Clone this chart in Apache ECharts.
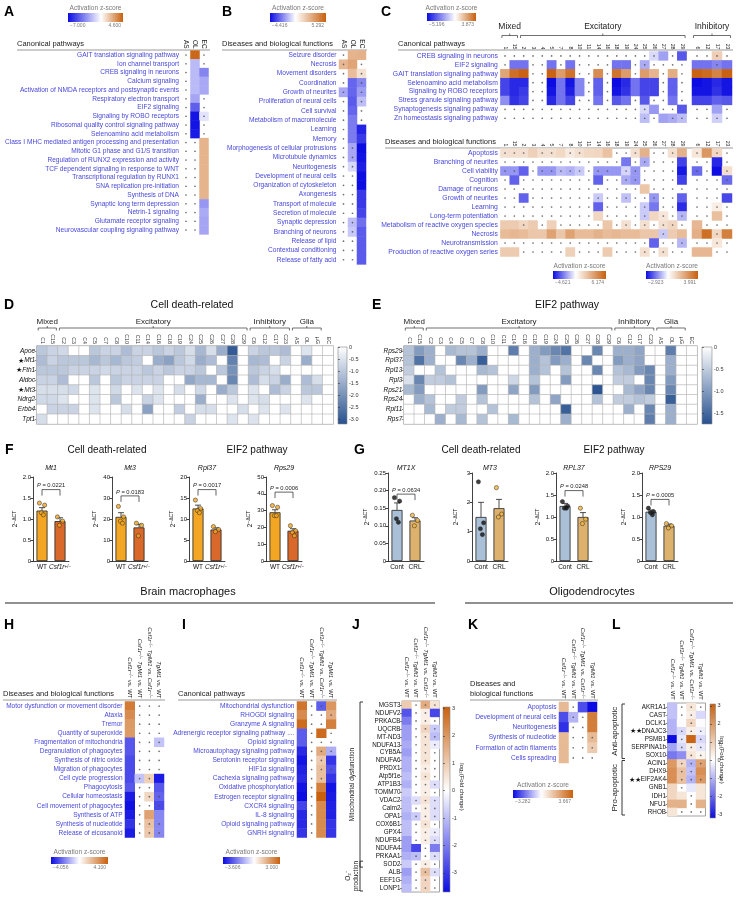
<!DOCTYPE html>
<html>
<head>
<meta charset="utf-8">
<script src="https://cdn.jsdelivr.net/npm/echarts@6/dist/echarts.min.js"></script>
<style>
  html, body { margin: 0; background: #fff; }
  #chart { width: 737px; height: 900px; }
</style>
</head>
<body>
<div id="chart"></div>
<script>
const n = v => ({ v, ns: true });   // coloured cell that is not significant (dot)
const _ = null;                      // not significant, white cell with dot

// ---------- A ----------
const aCols = ['AS', 'OL', 'EC'];
const aRows = ['GAIT translation signaling pathway', 'Ion channel transport', 'CREB signaling in neurons', 'Calcium signaling',
  'Activation of NMDA receptors and postsynaptic events', 'Respiratory electron transport', 'EIF2 signaling',
  'Signaling by ROBO receptors', 'Ribosomal quality control signaling pathway', 'Selenoamino acid metabolism',
  'Class I MHC mediated antigen processing and presentation', 'Mitotic G1 phase and G1/S transition',
  'Regulation of RUNX2 expression and activity', 'TCF dependent signaling in response to WNT',
  'Transcriptional regulation by RUNX1', 'SNA replication pre-initiation', 'Synthesis of DNA',
  'Synaptic long term depression', 'Netrin-1 signaling', 'Glutamate receptor signaling', 'Neurovascular coupling signaling pathway'];
const aVals = [[_, 4.4, _], [_, -2.0, _], [_, -2.0, -3.5], [_, -2.0, -2.5], [_, -2.0, -2.5], [_, -2.6, _], [_, -4.6, _],
  [_, -6.8, n(-0.8)], [_, -6.8, _], [_, -6.6, _], [_, _, 2.2], [_, _, 2.2], [_, _, 2.2], [_, _, 2.2], [_, _, 2.2], [_, _, 2.2],
  [_, _, 2.2], [_, _, -3.0], [_, _, -2.4], [_, _, -2.6], [_, _, -2.6]];
const aRange = [-7.000, 4.600];

// ---------- B ----------
const bRows = ['Seizure disorder', 'Necrosis', 'Movement disorders', 'Coordination', 'Growth of neurites',
  'Proliferation of neural cells', 'Cell survival', 'Metabolism of macromolecule', 'Learning', 'Memory',
  'Morphogenesis of cellular protrusions', 'Microtubule dynamics', 'Neuritogenesis', 'Development of neural cells',
  'Organization of cytoskeleton', 'Axongenesis', 'Transport of molecule', 'Secretion of molecule', 'Synaptic depression',
  'Branching of neurons', 'Release of lipid', 'Contextual conditioning', 'Release of fatty acid'];
const bVals = [[_, 2.5, 2.6], [n(2.4), 3.0, _], [_, 2.2, n(1.0)], [_, -2.8, n(-2.2)], [n(-1.6), -2.8, n(-1.8)],
  [_, -3.0, n(-1.2)], [_, -2.8, _], [_, -2.4, _], [_, -2.4, -4.0], [_, -2.4, -3.6], [_, n(-1.6), -4.4], [_, n(-1.6), -4.3],
  [_, n(-0.7), -4.1], [_, _, -4.4], [_, _, -4.4], [_, _, -3.6], [_, _, -3.6], [_, _, -3.4], [_, n(-1.2), -2.6],
  [_, n(-1.0), -3.0], [_, _, -3.0], [_, _, -3.0], [_, _, -3.0]];
const bRange = [-4.416, 5.292];

// ---------- C ----------
const cExcCols = ['1', '15', '2', '3', '4', '5', '7', '8', '10', '11', '14', '16', '18', '19', '24', '25', '26', '27', '28', '29'];
const cInhCols = ['6', '12', '17', '23'];
const cTopRows = ['CREB signaling in neurons', 'EIF2 signaling', 'GAIT translation signaling pathway', 'Selenoamino acid metabolism',
  'Signaling by ROBO receptors', 'Stress granule signaling pathway', 'Synaptogenesis signaling pathway', 'Zn homeostasis signaling pathway'];
const cTopExc = [
  [_, _, _, _, _, _, _, _, _, _, _, _, _, _, _, _, n(-0.8), -2.0, _, -3.6],
  [_, -3.0, -3.0, _, _, -3.0, _, -3.0, _, _, _, _, -3.0, -3.0, _, n(-1.8), _, _, _, _],
  [2.2, 3.5, 3.8, _, _, 3.8, 2.4, 3.4, _, _, 2.8, _, 3.4, 2.4, _, 2.4, 1.8, _, 2.0, _],
  [-4.0, -4.6, -4.6, _, _, -5.2, -3.0, -5.0, -2.6, _, -3.4, _, -5.2, -4.6, -3.0, -4.0, -4.0, _, -3.4, _],
  [-4.0, -4.6, -4.2, _, _, -5.0, -3.0, -4.8, -2.6, _, -3.4, _, -5.0, -4.4, -3.0, -4.0, -4.0, _, -3.4, _],
  [-2.4, -4.4, -4.0, _, _, -4.6, -3.0, -4.0, _, _, -3.0, _, -3.6, -3.0, _, -3.6, _, _, -3.0, _],
  [_, _, _, _, _, _, _, _, _, _, _, _, _, _, _, n(-0.8), -2.2, _, _, -3.6],
  [_, _, _, _, _, _, _, _, _, _, _, _, _, _, _, n(-1.4), _, -2.0, n(-1.8), n(-1.4)]];
const cTopInh = [[_, _, n(1.2), _], [-3.0, -3.0, n(-2.6), -3.0], [3.8, 3.6, 3.0, 3.8], [-5.2, -5.0, -4.6, -5.0],
  [-5.0, -5.0, -4.4, -5.0], [-4.0, -4.0, -3.4, -3.6], [_, _, -2.0, _], [_, _, n(-1.0), _]];
const cTopRange = [-5.196, 3.873];
const cBotRows = ['Apoptosis', 'Branching of neurites', 'Cell viability', 'Cognition', 'Damage of neurons', 'Growth of neurites',
  'Learning', 'Long-term potentiation', 'Metabolism of reactive oxygen species', 'Necrosis', 'Neurotransmission',
  'Production of reactive oxygen series'];
const cBotExc = [
  [n(1.2), n(1.2), n(1.2), 1.8, n(1.2), n(1.2), 1.5, n(0.8), n(1.2), 1.5, 1.6, 2.4, _, _, n(1.2), 3.0, _, _, n(1.2), 3.0],
  [_, _, _, _, _, _, _, _, _, _, _, _, _, -2.6, _, n(-1.6), _, _, _, -3.6],
  [n(-2.0), n(-2.0), -3.0, _, n(-2.0), n(-2.0), n(-1.3), n(-1.5), n(-1.0), _, n(-2.0), n(-2.0), -2.0, n(-0.8), n(-2.0), _, _, _, _, -4.4],
  [_, -3.0, _, _, _, _, _, _, _, _, -3.0, _, _, n(-1.6), n(-2.0), _, _, _, _, -3.6],
  [_, _, _, _, _, _, _, _, _, _, _, _, _, _, _, 2.2, _, _, _, _],
  [_, _, -3.0, _, _, _, _, _, _, _, n(-1.0), _, _, n(-1.2), _, _, n(-2.0), _, _, -3.0],
  [_, _, _, _, _, _, _, _, _, _, -3.0, _, _, _, _, n(-1.0), -2.6, _, _, -4.0],
  [_, _, _, _, _, _, _, _, _, _, 1.6, _, _, _, _, n(-1.0), 1.6, n(1.0), _, n(-1.4)],
  [2.0, 2.0, n(1.6), 2.0, _, 1.8, _, _, _, _, _, 2.2, _, n(1.2), _, n(1.2), _, n(1.2), n(1.6), _],
  [2.6, 2.8, 2.6, 2.2, 2.2, 3.6, 2.2, 3.6, 2.6, 2.6, 3.0, 2.6, 2.8, 2.6, 2.6, 2.2, 2.2, n(-1.0), 2.0, 2.6],
  [_, _, _, _, _, _, _, _, _, _, _, _, _, _, _, _, -3.0, _, _, n(-1.4)],
  [2.0, 2.0, _, _, _, _, _, 1.8, _, _, _, 2.0, _, _, _, n(1.2), _, n(1.2), _, _]];
const cBotInh = [[n(0.6), 2.6, n(1.0), _], [_, _, -2.6, _], [n(-1.8), _, -2.9, n(0.8)], [_, _, _, n(-1.8)], [_, _, _, _],
  [_, _, _, -2.2], [_, _, n(0.4), _], [_, _, 1.6, _], [1.8, _, _, _], [2.0, 3.6, n(1.0), 3.2], [_, _, n(0.6), _], [1.8, 1.8, _, _]];
const cExcRange = [-4.621, 6.174];
const cInhRange = [-2.923, 3.991];

// ---------- D / E ----------
const deCols = ['C1', 'C15', 'C2', 'C3', 'C4', 'C5', 'C7', 'C8', 'C10', 'C11', 'C14', 'C16', 'C18', 'C19', 'C24', 'C25',
  'C26', 'C27', 'C28', 'C29', 'C6', 'C12', 'C17', 'C23', 'AS', 'OL', 'µG', 'EC'];
const deGroups = [{ from: 0, to: 1, name: 'Mixed' }, { from: 2, to: 19, name: 'Excitatory' },
  { from: 20, to: 23, name: 'Inhibitory' }, { from: 24, to: 26, name: 'Glia' }];
const dRows = ['Apoe', '*Mt1', '*Fth1', 'Aldoc', '*Mt3', 'Ndrg2', 'Erbb4', 'Tpt1'];
const dVals = [
  [-1.0, -0.8, -0.7, 0, 0, -1.0, -0.8, -0.8, -1.2, -0.8, -0.8, -1.0, -0.8, -1.0, -0.6, -1.3, -0.6, -1.5, -3.0, 0, -0.8, -1.0, -1.0, -1.2, 0, -0.5, 0, 0],
  [-1.2, -0.8, -1.0, -1.0, -1.0, -1.3, -1.0, -1.3, -1.0, -0.9, 0, -1.5, -1.7, -1.0, -0.7, -1.5, -1.2, 0, -2.3, 0, -1.3, -1.2, 0, -0.8, 0, -1.5, 0, 0],
  [-1.0, -1.0, -1.0, -0.8, -0.8, -0.8, -0.7, -0.8, -0.8, -0.8, -1.0, -0.8, -1.0, -0.8, -0.8, -1.0, 0, -1.0, -2.0, 0, -1.0, -0.8, -0.6, 0, 0, 0, 0, 0],
  [-0.8, -0.8, -1.2, 0, 0, -1.0, 0, -1.0, -0.8, -0.8, -0.8, -0.8, 0, 0, -1.6, -1.3, -1.3, 0, -2.2, 0, -1.2, -0.6, -0.8, -1.5, 0, -1.2, -0.6, 0],
  [-0.6, -0.6, -0.6, -0.7, 0, -0.5, 0, -0.7, 0, -0.5, 0, -0.5, 0, -0.6, 0, -0.7, 0, -1.5, -1.0, 0, -0.5, 0, -1.2, -0.8, 0, -1.0, -1.0, 0],
  [-0.7, -0.7, -0.5, 0, 0, -0.5, 0, -1.0, 0, 0, -0.8, -0.5, 0, 0, 0, -1.5, 0, 0, -0.5, 0, -0.5, -0.6, 0, 0, 0, -0.5, 0, 0],
  [0, -0.8, -0.8, -0.8, 0, -0.5, 0, 0, -0.6, 0, -1.7, 0, 0, -0.9, 0, -0.6, -0.6, 0, 0, -0.6, 0, -0.5, 0, -0.5, 0, 0, 0, 0],
  [-0.6, 0, 0, 0, 0, 0, 0, 0, 0, 0, 0, 0, 0, 0, -0.8, 0, 0, 0, -0.5, 0, -0.5, 0, 0, 0, 0, 0, 0, 0]];
const dRange = [-3.2, 0];
const eRows = ['Rps29', 'Rpl37', 'Rpl13', 'Rpl3', 'Rps21', 'Rps24', 'Rpl11', 'Rps7'];
const eVals = [
  [-0.6, -1.0, -0.8, 0, -0.7, -0.6, -0.6, -0.8, 0, 0, -1.3, 0, -0.8, -1.0, -1.2, -1.4, 0, 0, -1.2, 0, -0.8, -0.8, -0.9, 0, 0, -1.3, 0, 0],
  [-0.6, -1.4, -0.8, 0, 0, -1.2, -0.8, -1.6, 0, 0, 0, 0, -0.8, -0.6, -1.0, -0.8, 0, -1.2, 0, 0, -1.0, -0.8, -0.9, 0, 0, -0.8, 0, 0],
  [-0.5, 0, 0, -0.6, 0, 0, 0, -0.7, -0.6, 0, 0, 0, -0.8, -0.6, 0, -0.6, 0, 0, -1.2, 0, -0.6, -0.7, -1.0, -1.2, 0, -0.8, 0, 0],
  [-0.3, -1.2, -0.5, -0.5, -0.6, 0, 0, 0, 0, 0, -0.4, 0, -0.6, 0, 0, -1.0, 0, 0, 0, 0, -0.5, -0.5, 0, -1.2, 0, -1.0, 0, 0],
  [-0.7, -1.0, 0, 0, 0, 0, 0, -1.0, 0, 0, -0.9, 0, -1.0, 0, 0, 0, 0, 0, -1.7, 0, 0, -0.7, -0.9, -1.2, 0, -1.2, 0, 0],
  [0, -0.8, -0.6, 0, 0, -0.5, 0, -0.6, 0, 0, 0, 0, -0.6, 0, -0.9, 0, 0, 0, -0.6, 0, -0.5, -0.5, -0.6, -0.5, 0, -1.6, 0, 0],
  [0, 0, -0.7, 0, -0.5, -0.5, 0, 0, -0.6, 0, 0, 0, 0, 0, 0, -1.6, 0, 0, 0, 0, 0, -0.8, 0, -1.2, 0, -0.8, 0, 0],
  [0, 0, 0, -0.8, 0, -0.7, 0, -0.6, 0, 0, -0.7, 0, 0, 0, 0, -0.8, 0, 0, 0, 0, 0, 0, 0, -1.3, 0, -0.8, 0, 0]];
const eRange = [-1.75, 0];

// ---------- F / G bar charts ----------
const fCats = ['WT', 'Csf1r+/-'];
const gCats = ['Cont', 'CRL'];
const fGenes = ['Mt1', 'Mt3', 'Rpl37', 'Rps29'];
const fMeans = [[1.2, 0.95], [21, 16], [12.5, 7.5], [29, 18]];
const fSems = [[0.07, 0.08], [2, 1.5], [0.8, 0.4], [1.5, 1.2]];
const fWT = [[1.38, 1.33, 1.15, 1.1], [26, 21, 19, 18], [14.5, 12.5, 12, 11.5], [33, 32, 27, 27]];
const fKO = [[1.05, 0.95, 0.85], [18, 17, 12], [8.2, 7.5, 7], [21, 18, 17, 15]];
const fMax = [2, 40, 20, 50], fStep = [0.5, 10, 5, 10], fDec = [1, 0, 0, 0];
const fP = ['0.0221', '0.0183', '0.0017', '0.0006'], fPAt = [1.7, 31, 17, 41];
const gGenes = ['MT1X', 'MT3', 'RPL37', 'RPS29'];
const gMeans = [[0.145, 0.115], [1.5, 1.8], [1.25, 1.0], [1.12, 0.8]];
const gSems = [[0.02, 0.008], [0.5, 0.3], [0.06, 0.1], [0.04, 0.04]];
const gCont = [[0.18, 0.17, 0.12, 0.11], [2.7, 1.3, 1.1, 0.9], [1.35, 1.25, 1.2, 1.2], [1.2, 1.12, 1.1, 1.05]];
const gCRL = [[0.13, 0.115, 0.1], [2.5, 1.6, 1.5], [1.2, 0.95, 0.85], [0.85, 0.8, 0.75]];
const gMax = [0.25, 3, 2, 2], gStep = [0.05, 1, 0.5, 0.5], gDec = [2, 0, 1, 1];
const gP = ['0.0634', null, '0.0248', '0.0005'], gPAt = [0.19, null, 1.6, 1.4];

// ---------- H / I / J / K / L ----------
const cmpCols = ['Csf1r−/− vs. WT', 'Csf1r−/− TgMt1 vs. WT', 'Csf1r−/− TgMt1 vs. Csf1r−/−', 'TgMt1 vs. WT'];
const hRows = ['Motor dysfunction or movement disorder', 'Ataxia', 'Tremor', 'Quantity of superoxide', 'Fragmentation of mitochondria',
  'Degranulation of phagocytes', 'Synthesis of nitric oxide', 'Migration of phagocytes', 'Cell cycle progression', 'Phagocytosis',
  'Cellular homeostasis', 'Cell movement of phagocytes', 'Synthesis of ATP', 'Synthesis of nucleotide', 'Release of eicosanoid'];
const hVals = [[3.4, _, _, _], [3.0, _, _, _], [2.6, _, _, _], [2.6, _, _, _], [-2.8, _, _, n(-1.0)], [-2.8, _, _, _],
  [-3.0, _, _, _], [-3.0, _, _, _], [-3.0, n(-1.0), n(1.2), -3.8], [-2.8, _, _, -2.8], [-3.8, _, n(1.0), n(-2.6)],
  [-4.0, _, _, n(-3.0)], [-3.8, _, 2.4, -2.0], [-3.4, _, n(1.6), n(-2.0)], [-3.8, _, n(1.4), n(-2.0)]];
const hRange = [-4.056, 4.100];
const iRows = ['Mitochondrial dysfunction', 'RHOGDI signaling', 'Granzyme A signaling', 'Adrenergic receptor signaling pathway ....',
  'Opioid signaling', 'Microautophagy signaling pathway', 'Serotonin receptor signaling', 'HIF1α signaling',
  'Cachexia signaling pathway', 'Oxidative phosphorylation', 'Estrogen receptor signaling', 'CXCR4 signaling', 'IL-8 signaling',
  'Opioid signaling pathway', 'GNRH signaling'];
const iVals = [[2.6, _, n(-2.4), 2.0], [2.2, _, _, n(1.6)], [2.8, _, _, 2.4], [-2.4, _, 2.8, _], [-2.4, _, _, _],
  [-3.2, _, n(1.6), n(-1.2)], [-3.5, _, n(1.0), -3.0], [-3.3, _, n(1.2), n(-2.6)], [-3.2, _, n(1.2), -3.0],
  [-3.5, _, 2.4, -3.5], [-3.6, _, 3.0, -3.4], [-2.8, _, 2.2, -3.3], [-3.2, _, 2.2, -3.3], [-3.2, _, 2.2, -3.0], [-3.0, _, 2.2, -3.0]];
const iRange = [-3.606, 3.000];
const jRows = ['MGST3', 'NDUFV2', 'PRKACB', 'UQCRB', 'MT-ND3', 'NDUFA13', 'CYB5A', 'NDUFA6', 'PRDX1', 'Atp5f1e', 'ATP1B3',
  'TOMM70', 'VDAC2', 'Calm2', 'OPA1', 'COX6B1', 'GPX4', 'NDUFB4', 'NDUFA4', 'PRKAA1', 'SOD2', 'ALB', 'EEF1G', 'LONP1'];
const jVals = [[1.0, _, n(1.6), n(0.5)], [-2.6, _, n(0.3), -2.8], [-2.0, _, n(0.3), _], [-1.5, _, n(0.8), n(-0.8)],
  [-1.5, _, n(0.5), n(-1.0)], [-1.3, _, n(0.5), n(-0.3)], [-1.5, _, n(0.5), _], [-1.2, _, n(0.5), _], [-1.2, _, n(0.3), _],
  [-1.0, _, n(0.5), _], [-1.2, _, n(0.3), n(-0.5)], [-0.8, _, n(0.3), _], [-1.0, n(-0.5), n(0.5), n(-0.5)],
  [-1.0, _, n(0.3), n(-0.5)], [-1.2, n(-0.8), n(0.3), n(-0.5)], [-1.0, _, n(0.5), _], [-1.0, _, n(0.3), n(-0.3)],
  [-1.5, _, n(0.3), n(-0.5)], [-1.5, -2.8, _, -2.0], [-1.2, n(-1.0), _, n(-0.5)], [-0.8, _, n(0.3), _],
  [-1.5, _, n(1.2), n(-0.5)], [-1.2, _, n(0.8), _], [-1.0, _, n(0.8), _]];
const jGroups = [{ from: 0, to: 20, name: 'Mitochondrial dysfunction' }, { from: 20, to: 23, name: 'O₂⁻\nproduction' }];
const jRange = [-3.7, 3.05];
const kRows = ['Apoptosis', 'Development of neural cells', 'Neuritogenesis', 'Synthesis of nucleotide',
  'Formation of actin filaments', 'Cells spreading'];
const kVals = [[1.6, _, -2.4, -3.282], [-2.4, n(-1.0), _, 3.0], [-2.8, _, _, 3.0], [1.6, _, _, n(1.6)], [1.6, _, _, n(1.2)], [1.6, _, _, _]];
const kRange = [-3.282, 3.667];
const lRows = ['AKR1A1', 'CAST', 'DCLK1', '**DNAJC3', 'PSMB1', 'SERPINA1b', 'SOX10', 'ACIN1', 'DHX9', '**EIF2AK4', 'GNB1',
  'IDH1', 'NFU1', 'RHOB'];
const lVals = [[-0.8, _, n(0.5), _], [-0.8, _, n(0.3), -0.5], [-1.0, 0, n(0.8), 0], [-1.0, n(-0.5), n(0.3), n(-0.2)],
  [-3.2, n(-0.3), 3.0, n(-0.5)], [-1.2, n(-0.5), n(0.3), n(-0.3)], [-1.8, -1.5, n(0.5), n(0.2)], [2.0, n(0.8), n(-1.0), n(1.8)],
  [2.2, n(1.2), n(-0.8), 2.2], [2.2, n(1.2), n(-1.0), n(2.0)], [0.8, _, -0.3, 0.5], [0.8, 0.5, _, 0.5], [1.5, 1.5, _, 1.5],
  [0.5, _, _, _]];
const lGroups = [{ from: 0, to: 6, name: 'Anti-apoptotic' }, { from: 7, to: 13, name: 'Pro-apoptotic' }];
const lRange = [-3.2, 3.1];

// ---------- styling ----------
const FONT = '"Liberation Sans", Arial, sans-serif';
const BLUE = '#0c0ce2', ORANGE = '#c8600e', LBL = '#4848da', DBLUE = '#26508f';
const grids = [], xAxes = [], yAxes = [], series = [], visualMaps = [], graphics = [];

function hex(c) { return [1, 3, 5].map(i => parseInt(c.slice(i, i + 2), 16)); }
function mix(a, b, t) { const A = hex(a), B = hex(b); return 'rgb(' + A.map((v, i) => Math.round(v + (B[i] - v) * t)).join(',') + ')'; }
function ramp(min, max, neg, pos) {
  const out = [];
  for (let i = 0; i <= 48; i++) {
    const v = min + (max - min) * i / 48;
    out.push(v < 0 ? mix('#ffffff', neg, v / min) : mix('#ffffff', pos, max > 0 ? v / max : 0));
  }
  return out;
}
function txt(x, y, text, o) {
  graphics.push({ type: 'text', x, y, rotation: (o && o.rot) || 0, silent: true,
    style: Object.assign({ text, fontSize: 7.5, fontFamily: FONT, fill: '#222', align: 'left', verticalAlign: 'middle' }, o || {}) });
}
function hline(x1, x2, y, color, w) {
  graphics.push({ type: 'line', silent: true, shape: { x1, y1: y, x2, y2: y }, style: { stroke: color || '#9a9a9a', lineWidth: w || 1 } });
}
const colFmt = v => v.replace(/−\/−/g, '{s|−/−}').replace(/(Csf1r|TgMt1)/g, '{i|$1}');
const colRich = { i: { fontStyle: 'italic', fontSize: 6, fontFamily: FONT, color: '#222' },
  s: { fontSize: 4.5, fontFamily: FONT, color: '#222', verticalAlign: 'top' } };
const geneFmt = v => v[0] === '*' ? (v[1] === '*' ? '{s|★★}' + v.slice(2) : '{s|★}{i|' + v.slice(1) + '}') : '{i|' + v + '}';

function heat(o) {
  const gi = grids.length;
  const [min, max] = o.range;
  grids.push({ left: o.left, top: o.top, width: o.width, height: o.height, show: !!o.frame,
    borderColor: '#8c8c8c', borderWidth: 0.8, backgroundColor: 'rgba(0,0,0,0)' });
  xAxes.push({ gridIndex: gi, type: 'category', position: 'top', data: o.cols, axisLine: { show: false },
    axisTick: { show: false }, splitLine: { show: false },
    axisLabel: Object.assign({ interval: 0, rotate: 90, fontSize: 6, color: '#222', margin: 2, fontFamily: FONT }, o.xl || {}) });
  yAxes.push({ gridIndex: gi, type: 'category', inverse: true, data: o.rows, axisLine: { show: false }, splitLine: { show: false },
    axisTick: { show: !!o.yTick, length: 2, alignWithLabel: true, lineStyle: { color: '#333', width: 0.6 } },
    axisLabel: Object.assign({ show: !o.hideY, interval: 0, fontSize: 6.6, color: LBL, margin: o.yTick ? 1.5 : 2.5, fontFamily: FONT }, o.yl || {}) });
  const cells = [], dots = [];
  o.vals.forEach((row, r) => row.forEach((c, x) => {
    if (c === null) { dots.push([x, r]); return; }
    if (typeof c === 'object') { cells.push([x, r, c.v]); dots.push([x, r]); } else cells.push([x, r, c]);
  }));
  const si = series.length;
  series.push({ type: 'heatmap', xAxisIndex: gi, yAxisIndex: gi, data: cells, silent: true,
    itemStyle: o.cellBorder ? { borderColor: '#b4b4b4', borderWidth: 0.6 } : { borderWidth: 0 } });
  visualMaps.push({ type: 'continuous', show: false, seriesIndex: si, dimension: 2, min, max,
    inRange: { color: ramp(min, max, o.neg || BLUE, o.pos || ORANGE) } });
  if (dots.length) series.push({ type: 'scatter', xAxisIndex: gi, yAxisIndex: gi, data: dots, symbolSize: 1.7, silent: true, z: 5,
    itemStyle: { color: '#4a4a4a' } });
  return gi;
}

function topBrackets(gi, groups, dy, ldy, fs) {
  series.push({ type: 'custom', xAxisIndex: gi, yAxisIndex: gi, silent: true, clip: false, z: 6,
    data: groups.map(g => [g.from, 0]),
    renderItem(p, api) {
      const g = groups[p.dataIndex], s = api.size([1, 1]);
      const a = api.coord([g.from, 0]), b = api.coord([g.to, 0]);
      const x0 = a[0] - s[0] / 2 + 1.5, x1 = b[0] + s[0] / 2 - 1.5, y = a[1] - s[1] / 2 - dy, xm = (x0 + x1) / 2;
      return { type: 'group', children: [
        { type: 'polyline', shape: { points: [[x0, y + 2.5], [x0, y], [x1, y], [x1, y + 2.5]] }, style: { stroke: '#333', fill: null, lineWidth: 0.7 } },
        { type: 'line', shape: { x1: xm, y1: y, x2: xm, y2: y - 2 }, style: { stroke: '#333', lineWidth: 0.7 } },
        { type: 'text', x: xm, y: y - ldy, style: { text: g.name, fontSize: fs, fontFamily: FONT, fill: '#222', align: 'center', verticalAlign: 'middle' } }] };
    } });
}

function sideBrackets(gi, groups, dx, tdx, fs) {
  series.push({ type: 'custom', xAxisIndex: gi, yAxisIndex: gi, silent: true, clip: false, z: 6,
    data: groups.map(g => [0, g.from]),
    renderItem(p, api) {
      const g = groups[p.dataIndex], s = api.size([1, 1]);
      const a = api.coord([0, g.from]), b = api.coord([0, g.to]);
      const x = a[0] - s[0] / 2 - dx, y0 = a[1] - s[1] / 2 + 1, y1 = b[1] + s[1] / 2 - 1;
      return { type: 'group', children: [
        { type: 'polyline', shape: { points: [[x + 3, y0], [x, y0], [x, y1], [x + 3, y1]] }, style: { stroke: '#222', fill: null, lineWidth: 0.9 } },
        { type: 'text', x: x - tdx, y: (y0 + y1) / 2, rotation: Math.PI / 2,
          style: { text: g.name, fontSize: fs, fontFamily: FONT, fill: '#222', align: 'center', verticalAlign: 'middle', lineHeight: fs + 1 } }] };
    } });
}

function hLegend(x, y, w, h, range, title) {
  const [min, max] = range, z = -min / (max - min);
  const f = v => (v < 0 ? '−' : '') + Math.abs(v).toFixed(3);
  txt(x + w / 2, y - 5, title, { fontSize: 6.6, fill: '#7a7a7a', align: 'center' });
  graphics.push({ type: 'rect', silent: true, shape: { x, y, width: w, height: h },
    style: { fill: new echarts.graphic.LinearGradient(0, 0, 1, 0, [{ offset: 0, color: BLUE }, { offset: z, color: '#fff' }, { offset: 1, color: ORANGE }]) } });
  txt(x + 2, y + h + 3.5, f(min), { fontSize: 5, fill: '#7a7a7a' });
  txt(x + w - 2, y + h + 3.5, f(max), { fontSize: 5, fill: '#7a7a7a', align: 'right' });
}

function vBar(o) {
  const [lo, hi] = o.range, ppu = o.h / (hi - lo);
  const stops = hi > 0
    ? [{ offset: 0, color: o.pos || ORANGE }, { offset: hi / (hi - lo), color: '#fff' }, { offset: 1, color: o.neg || BLUE }]
    : [{ offset: 0, color: '#fff' }, { offset: 1, color: o.neg }];
  graphics.push({ type: 'rect', silent: true, shape: { x: o.x, y: o.y, width: o.w, height: o.h },
    style: { fill: new echarts.graphic.LinearGradient(0, 0, 0, 1, stops), stroke: '#888', lineWidth: 0.6 } });
  const gi = grids.length;
  grids.push({ left: o.x, top: o.y + (hi - o.ax[1]) * ppu, width: o.w, height: (o.ax[1] - o.ax[0]) * ppu });
  xAxes.push({ gridIndex: gi, type: 'value', show: false });
  yAxes.push({ gridIndex: gi, type: 'value', position: 'right', min: o.ax[0], max: o.ax[1], interval: o.ax[2],
    splitLine: { show: false }, axisLine: { show: false },
    axisTick: { show: true, length: 2, lineStyle: { color: '#333', width: 0.6 } },
    axisLabel: { fontSize: 5.5, color: '#333', margin: 2, fontFamily: FONT, formatter: o.fmt } });
}

const JIT = [-2.6, 2.6, -0.6, 1.4, -1.8];
const catFmt = v => v === 'Csf1r+/-' ? '{i|Csf1r}{s|+/−}' : v;
function bars(o) {
  const gi = grids.length;
  grids.push({ left: o.left, top: o.top, width: 36, height: o.height });
  xAxes.push({ gridIndex: gi, type: 'category', data: o.cats, axisTick: { show: false },
    axisLine: { lineStyle: { color: '#111', width: 0.8 } },
    axisLabel: { fontSize: 6.5, color: '#111', margin: 3, interval: 0, fontFamily: FONT, formatter: catFmt,
      rich: { i: { fontStyle: 'italic', fontSize: 6.5, fontFamily: FONT }, s: { fontSize: 4.5, fontFamily: FONT, verticalAlign: 'top' } } } });
  yAxes.push({ gridIndex: gi, type: 'value', min: 0, max: o.max, interval: o.step, splitLine: { show: false },
    axisLine: { show: true, lineStyle: { color: '#111', width: 0.8 } },
    axisTick: { show: true, length: 2.5, lineStyle: { color: '#111', width: 0.8 } },
    axisLabel: { fontSize: 6, color: '#111', margin: 2, fontFamily: FONT, formatter: v => v === 0 ? '0' : v.toFixed(o.dec) },
    name: '{b|2}{s|−ΔCT}', nameLocation: 'middle', nameRotate: 90, nameGap: o.gap,
    nameTextStyle: { color: '#111', rich: { b: { fontSize: 6.5, fontFamily: FONT }, s: { fontSize: 5, fontFamily: FONT, verticalAlign: 'top' } } } });
  series.push({ type: 'bar', xAxisIndex: gi, yAxisIndex: gi, barWidth: 11, silent: true,
    data: o.means.map((m, i) => ({ value: m, itemStyle: { color: o.colors[i] } })), itemStyle: { borderColor: '#222', borderWidth: 0.8 } });
  series.push({ type: 'custom', xAxisIndex: gi, yAxisIndex: gi, silent: true, z: 3,
    data: o.means.map((m, i) => [i, m, o.sems[i]]),
    renderItem(p, api) {
      const a = api.coord([api.value(0), api.value(1)]), b = api.coord([api.value(0), api.value(1) + api.value(2)]);
      return { type: 'group', children: [
        { type: 'line', shape: { x1: a[0], y1: a[1], x2: b[0], y2: b[1] }, style: { stroke: '#222', lineWidth: 0.8 } },
        { type: 'line', shape: { x1: b[0] - 3, y1: b[1], x2: b[0] + 3, y2: b[1] }, style: { stroke: '#222', lineWidth: 0.8 } }] };
    } });
  const pts = [];
  o.pts.forEach((g, i) => g.forEach((v, k) => pts.push({ value: [i, v], symbolOffset: [JIT[k % JIT.length], 0], itemStyle: { color: o.dotColors[i] } })));
  series.push({ type: 'scatter', xAxisIndex: gi, yAxisIndex: gi, data: pts, symbolSize: 4.2, silent: true, z: 4,
    itemStyle: { borderColor: '#222', borderWidth: 0.6 } });
  if (o.p) series.push({ type: 'custom', xAxisIndex: gi, yAxisIndex: gi, silent: true, clip: false, z: 5,
    data: [[0, o.pAt]],
    renderItem(p, api) {
      const a = api.coord([0, api.value(1)]), b = api.coord([1, api.value(1)]);
      return { type: 'group', children: [
        { type: 'polyline', shape: { points: [[a[0], a[1] + 6], [a[0], a[1]], [b[0], b[1]], [b[0], b[1] + 6]] }, style: { stroke: '#222', fill: null, lineWidth: 0.7 } },
        { type: 'text', x: (a[0] + b[0]) / 2, y: a[1] - 1, style: { text: '{p|P} = ' + o.p, fontSize: 5.8, fontFamily: FONT, fill: '#222',
          align: 'center', verticalAlign: 'bottom', rich: { p: { fontStyle: 'italic', fontSize: 5.8, fontFamily: FONT } } } }] };
    } });
  txt(o.left + 18, o.titleY, o.gene, { fontSize: 7, fontStyle: 'italic', fill: '#111', align: 'center' });
}

// ---------- panel letters and headings ----------
const letters = [['A', 4, 12], ['B', 222, 12], ['C', 381, 12], ['D', 4, 305], ['E', 372, 305], ['F', 5, 450], ['G', 354, 450],
  ['H', 4, 625], ['I', 182, 625], ['J', 352, 625], ['K', 468, 625], ['L', 612, 625]];
letters.forEach(([t, x, y]) => txt(x, y, t, { fontSize: 14, fontWeight: 'bold', fill: '#000' }));

txt(17, 44, 'Canonical pathways'); hline(17, 210, 50);
txt(222, 44, 'Diseases and biological functions'); hline(222, 367, 50);
txt(398, 44, 'Canonical pathways'); hline(398, 733, 50);
txt(385, 142, 'Diseases and biological functions'); hline(385, 733, 148);
txt(3, 694, 'Diseases and biological functions'); hline(3, 165, 700);
txt(178, 694, 'Canonical pathways'); hline(178, 337, 700);
txt(470, 689, 'Diseases and\nbiological functions', { lineHeight: 10 }); hline(470, 598, 700);
txt(192, 305, 'Cell death-related', { fontSize: 10.5, align: 'center', fill: '#111' });
txt(567, 305, 'EIF2 pathway', { fontSize: 10.5, align: 'center', fill: '#111' });
txt(107, 450, 'Cell death-related', { fontSize: 10, align: 'center', fill: '#111' });
txt(257, 450, 'EIF2 pathway', { fontSize: 10, align: 'center', fill: '#111' });
txt(481, 450, 'Cell death-related', { fontSize: 10, align: 'center', fill: '#111' });
txt(614, 450, 'EIF2 pathway', { fontSize: 10, align: 'center', fill: '#111' });
txt(188, 592, 'Brain macrophages', { fontSize: 11, align: 'center', fill: '#111' }); hline(5, 435, 603, '#222', 1.2);
txt(592, 592, 'Oligodendrocytes', { fontSize: 11, align: 'center', fill: '#111' }); hline(465, 733, 603, '#222', 1.2);

// ---------- heatmaps ----------
heat({ left: 181.5, top: 50.6, width: 27, height: 183.8, cols: aCols, rows: aRows, vals: aVals, range: aRange, xl: { fontSize: 6.5 } });
heat({ left: 339, top: 50.4, width: 27, height: 214, cols: aCols, rows: bRows, vals: bVals, range: bRange, xl: { fontSize: 6.5 } });
const cTE = heat({ left: 500.4, top: 51.5, width: 186.2, height: 71.2, cols: cExcCols, rows: cTopRows, vals: cTopExc, range: cTopRange,
  xl: { fontSize: 5.2 }, yl: { fontSize: 6.8 } });
const cTI = heat({ left: 692, top: 51.5, width: 40, height: 71.2, cols: cInhCols, rows: cTopRows, vals: cTopInh, range: cTopRange, hideY: true, xl: { fontSize: 5.2 } });
topBrackets(cTE, [{ from: 0, to: 1, name: 'Mixed' }, { from: 2, to: 19, name: 'Excitatory' }], 16, 8.5, 8.5);
topBrackets(cTI, [{ from: 0, to: 3, name: 'Inhibitory' }], 16, 8.5, 8.5);
heat({ left: 500.4, top: 148.5, width: 186.2, height: 108, cols: cExcCols, rows: cBotRows, vals: cBotExc, range: cExcRange,
  xl: { fontSize: 5.2 }, yl: { fontSize: 6.8 } });
heat({ left: 692, top: 148.5, width: 40, height: 108, cols: cInhCols, rows: cBotRows, vals: cBotInh, range: cInhRange, hideY: true, xl: { fontSize: 5.2 } });

const deY = { fontSize: 6.5, color: '#111', formatter: geneFmt,
  rich: { i: { fontStyle: 'italic', fontSize: 6.5, fontFamily: FONT, color: '#111' }, s: { fontSize: 7, fontFamily: FONT, color: '#111' } } };
const dG = heat({ left: 36.7, top: 346, width: 296.6, height: 78, cols: deCols, rows: dRows, vals: dVals, range: dRange, neg: DBLUE,
  cellBorder: true, frame: true, yTick: true, yl: deY, xl: { fontSize: 5.3, color: '#333' } });
const eG = heat({ left: 403.8, top: 346, width: 293.4, height: 78, cols: deCols, rows: eRows, vals: eVals, range: eRange, neg: DBLUE,
  cellBorder: true, frame: true, yTick: true, yl: deY, xl: { fontSize: 5.3, color: '#333' } });
topBrackets(dG, deGroups, 18, 6.5, 8);
topBrackets(eG, deGroups, 18, 6.5, 8);
vBar({ x: 338, y: 347, w: 9, h: 77, range: dRange, neg: DBLUE, ax: [-3, 0, 0.5], fmt: v => v === 0 ? '0' : v.toFixed(1) });
vBar({ x: 702, y: 347, w: 10, h: 77, range: eRange, neg: DBLUE, ax: [-1.5, 0, 0.5], fmt: v => v === 0 ? '0' : v.toFixed(1) });

const cmpX = { fontSize: 6, color: '#222', formatter: colFmt, rich: colRich, margin: 3 };
heat({ left: 125, top: 701.5, width: 39, height: 136, cols: cmpCols, rows: hRows, vals: hVals, range: hRange, xl: cmpX, yl: { fontSize: 6.5 } });
heat({ left: 297, top: 701.5, width: 39, height: 136, cols: cmpCols, rows: iRows, vals: iVals, range: iRange, xl: cmpX });
const jG = heat({ left: 402, top: 701, width: 37.5, height: 191, cols: cmpCols, rows: jRows, vals: jVals, range: jRange, frame: true,
  yTick: true, yl: { color: '#111', fontSize: 6.3 }, xl: cmpX });
sideBrackets(jG, jGroups, 42, 8, 6.5);
heat({ left: 559, top: 702, width: 38, height: 61, cols: cmpCols, rows: kRows, vals: kVals, range: kRange, xl: cmpX });
const lG = heat({ left: 667.5, top: 703, width: 38, height: 113, cols: cmpCols, rows: lRows, vals: lVals, range: lRange, frame: true,
  yTick: true, yl: { color: '#111', fontSize: 6.3, formatter: v => v[0] === '*' ? geneFmt(v) : v,
    rich: { s: { fontSize: 7, fontFamily: FONT, color: '#111' } } }, xl: cmpX });
sideBrackets(lG, lGroups, 45.5, 7, 8);
vBar({ x: 443, y: 707, w: 7, h: 185, range: jRange, ax: [-3, 3, 1], fmt: v => String(v) });
vBar({ x: 710, y: 704, w: 5.5, h: 114, range: lRange, ax: [-3, 3, 1], fmt: v => String(v) });
txt(462, 787, 'log₂(Fold change)', { fontSize: 6, align: 'center', rot: -Math.PI / 2 });
txt(722, 760, 'log₂(Fold change)', { fontSize: 6, align: 'center', rot: -Math.PI / 2 });

// ---------- legends ----------
hLegend(68, 13, 55, 9, aRange, 'Activation z-score');
hLegend(270, 13, 56, 9, bRange, 'Activation z-score');
hLegend(427, 13, 49, 8, cTopRange, 'Activation z-score');
hLegend(553, 271, 53, 8, cExcRange, 'Activation z-score');
hLegend(646, 271, 52, 8, cInhRange, 'Activation z-score');
hLegend(51, 857, 57, 7, hRange, 'Activation z-score');
hLegend(223, 857, 57, 7, iRange, 'Activation z-score');
hLegend(513, 790, 60, 8, kRange, 'Activation z-score');

// ---------- bar charts ----------
const fLeft = [33, 112, 189, 266], gLeft = [388, 472, 556, 642];
fGenes.forEach((g, i) => bars({ left: fLeft[i], top: 477, height: 84, titleY: 468, gene: g, cats: fCats, means: fMeans[i], sems: fSems[i],
  pts: [fWT[i], fKO[i]], colors: ['#f2a623', '#d8692a'], dotColors: ['#f2a623', '#f2a623'], max: fMax[i], step: fStep[i],
  dec: fDec[i], gap: i === 0 ? 13 : 12, p: fP[i], pAt: fPAt[i] }));
gGenes.forEach((g, i) => bars({ left: gLeft[i], top: 473, height: 88, titleY: 468, gene: g, cats: gCats, means: gMeans[i], sems: gSems[i],
  pts: [gCont[i], gCRL[i]], colors: ['#a9c0d6', '#ddb26e'], dotColors: ['#111', '#f3b43c'], max: gMax[i], step: gStep[i],
  dec: gDec[i], gap: i === 0 ? 17 : 12, p: gP[i], pAt: gPAt[i] }));

const chart = echarts.init(document.getElementById('chart'), null, { renderer: 'canvas' });
chart.setOption({
  animation: false,
  textStyle: { fontFamily: FONT },
  grid: grids, xAxis: xAxes, yAxis: yAxes, visualMap: visualMaps, series,
  graphic: { elements: graphics }
});
</script>
</body>
</html>
